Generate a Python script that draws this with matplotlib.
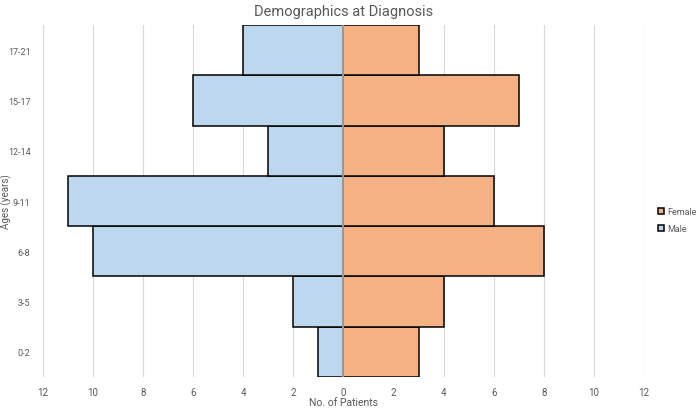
import numpy as np
import matplotlib
matplotlib.use('Agg')
import matplotlib.pyplot as plt

plt.rcParams['font.family'] = ['Roboto', 'DejaVu Sans']

ages = ['0-2', '3-5', '6-8', '9-11', '12-14', '15-17', '17-21']
male = [1, 2, 10, 11, 3, 6, 4]
female = [3, 4, 8, 6, 4, 7, 3]
ticks = [-12, -10, -8, -6, -4, -2, 0, 2, 4, 6, 8, 10, 12]

txt = '#595959'

fig = plt.figure(figsize=(7, 4.1), dpi=100)
ax = fig.add_axes([0.0614, 0.078, 0.8586, 0.8586])

y = np.arange(len(ages))
ax.barh(y, -np.array(male), height=1.0, color='#BDD7EE', edgecolor='black', linewidth=1.1, label='Male', zorder=2)
ax.barh(y, female, height=1.0, color='#F4B183', edgecolor='black', linewidth=1.1, label='Female', zorder=2)
ax.axvline(0, color='#A6A6A6', linewidth=1.3, zorder=3)

ax.set_xlim(-12, 12)
ax.set_ylim(-0.5, len(ages) - 0.5)
ax.set_xticks(ticks)
ax.set_xticklabels([str(abs(t)) for t in ticks])
ax.set_yticks(y)
ax.set_yticklabels(ages)
ax.tick_params(axis='x', length=0, labelsize=7, colors=txt, pad=7)
ax.tick_params(axis='y', length=0, labelsize=6.5, colors=txt, pad=9)
ax.xaxis.grid(True, color='#D9D9D9', linewidth=0.8, zorder=0)
ax.set_axisbelow(True)
for s in ax.spines.values():
    s.set_visible(False)

# axis titles placed by hand so they stay inside the figure
fig.text(ax.get_position().x0 + ax.get_position().width / 2, 1 - 403 / 410, 'No. of Patients',
         fontsize=7.5, color=txt, ha='center', va='center')
fig.text(6 / 700, 1 - 202 / 410, 'Ages (years)', fontsize=7, color=txt,
         ha='center', va='center', rotation=90)
ax.set_title('Demographics at Diagnosis', fontsize=10.5, color=txt, pad=7)

h, l = ax.get_legend_handles_labels()
leg = fig.legend(h[::-1], l[::-1], loc='center left', bbox_to_anchor=(0.94, 0.46), frameon=False,
                 fontsize=6.5, handlelength=0.7, handleheight=0.7, handletextpad=0.3, labelspacing=0.9,
                 borderpad=0, borderaxespad=0)
for t in leg.get_texts():
    t.set_color(txt)

fig.savefig('out.png', dpi=100)
